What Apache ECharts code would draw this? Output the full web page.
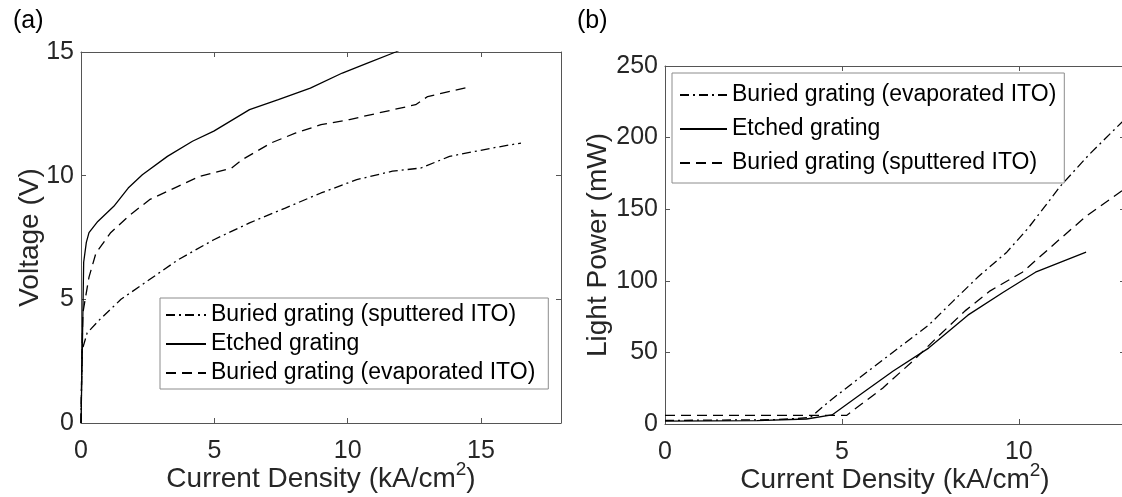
<!DOCTYPE html>
<html>
<head>
<meta charset="utf-8">
<script src="https://cdn.jsdelivr.net/npm/echarts@6/dist/echarts.min.js"></script>
<style>
  html, body { margin: 0; padding: 0; background: #fff; }
  #chart { width: 1122px; height: 497px; }
</style>
</head>
<body>
<div id="chart"></div>
<script>
// (a) voltage vs current density, [kA/cm2, V]
var etchedIV = [[0, 0], [0.05, 3], [0.1, 6.5], [0.2, 7.3], [0.3, 7.7], [0.63, 8.15], [1.23, 8.76], [1.77, 9.5],
  [2.3, 10.04], [3.24, 10.78], [4.18, 11.39], [4.98, 11.8], [6.32, 12.67], [7.4, 13.07], [8.6, 13.54],
  [9.8, 14.15], [10.74, 14.55], [11.8, 15.0], [12.0, 15.1]]
var evaporatedIV = [[0, 0], [0.03, 2.5], [0.07, 4.45], [0.3, 5.9], [0.56, 6.87], [1.1, 7.68], [1.77, 8.35],
  [2.57, 9.03], [3.64, 9.57], [4.45, 9.97], [5.65, 10.31], [6.05, 10.65], [7.12, 11.32], [8.06, 11.73],
  [9.0, 12.06], [10.07, 12.27], [11.14, 12.53], [12.55, 12.87], [13.0, 13.2], [14.62, 13.6]]
var sputteredIV = [[0, 0], [0.02, 1.5], [0.05, 2.97], [0.23, 3.64], [0.7, 4.18], [1.5, 5.0], [2.57, 5.8],
  [3.64, 6.6], [4.98, 7.41], [6.32, 8.09], [7.66, 8.69], [9.0, 9.3], [10.34, 9.84], [11.68, 10.18],
  [12.75, 10.31], [13.82, 10.78], [15.43, 11.12], [16.5, 11.32]]

// (b) light power vs current density, [kA/cm2, mW]
var evaporatedLI = [[0, 2.5], [3.1, 3], [4.1, 4.5], [4.7, 17], [5.8, 38], [6.7, 55], [7.45, 69], [8.15, 86],
  [8.86, 103], [9.66, 120], [10.27, 137], [10.77, 153], [11.17, 166], [11.98, 188], [12.92, 211], [13, 213]]
var etchedLI = [[0, 2], [2.6, 2.3], [4.0, 3.5], [4.72, 6.3], [5.6, 22], [6.45, 37], [7.45, 53], [8.56, 76],
  [9.56, 92], [10.47, 106], [11.9, 120]]
var sputteredLI = [[0, 6], [4.1, 6], [5.13, 6], [6.15, 25], [7.05, 45], [7.67, 60], [8.48, 79], [9.19, 93],
  [10.1, 106], [11.2, 130], [11.9, 145], [12.92, 163], [13, 164.5]]

var xTicksA = [0, 5, 10, 15]
var yTicksA = [0, 5, 10, 15]
var xTicksB = [0, 5, 10]
var yTicksB = [0, 50, 100, 150, 200, 250]

var FONT = 'Liberation Sans, Arial, Helvetica, sans-serif'
var AXIS = '#555'
var TEXT = '#262626'
var DASHDOT = [9, 4, 2, 4]
var DASHED = [10, 6]

function tickFmt (list) {
  return function (v) { return list.indexOf(v) >= 0 ? String(v) : '' }
}

function mainAxis (grid, min, max, step, ticks, name, gap, isX) {
  return {
    type: 'value',
    gridIndex: grid,
    min: min,
    max: max,
    interval: step,
    position: isX ? 'bottom' : 'left',
    name: name,
    nameLocation: 'middle',
    nameGap: gap,
    nameMoveOverlap: false,
    nameTextStyle: { fontFamily: FONT, fontSize: 28, color: TEXT },
    axisLine: { show: true, onZero: false, lineStyle: { color: AXIS, width: 1 } },
    axisTick: { show: true, inside: true, length: 5, lineStyle: { color: AXIS } },
    axisLabel: { fontFamily: FONT, fontSize: 25, color: TEXT, margin: isX ? 16 : 7, showMaxLabel: true, showMinLabel: true, formatter: tickFmt(ticks) },
    splitLine: { show: false }
  }
}

function mirrorAxis (grid, min, max, step, isX) {
  return {
    type: 'value',
    gridIndex: grid,
    min: min,
    max: max,
    interval: step,
    position: isX ? 'top' : 'right',
    axisLine: { show: true, onZero: false, lineStyle: { color: AXIS, width: 1 } },
    axisTick: { show: true, inside: true, length: 5, lineStyle: { color: AXIS } },
    axisLabel: { show: false },
    splitLine: { show: false }
  }
}

var xTitle = '{n|Current Density (kA/cm}{s|2}{n|)}'
var xTitleRich = {
  n: { fontFamily: FONT, fontSize: 28, color: TEXT },
  s: { fontFamily: FONT, fontSize: 19, color: TEXT, verticalAlign: 'top', padding: [0, 0, 20, 0] }
}

function line (name, data, xi, yi, dash) {
  return {
    name: name,
    type: 'line',
    xAxisIndex: xi,
    yAxisIndex: yi,
    data: data,
    symbol: 'none',
    clip: true,
    lineStyle: { color: '#000', width: 1.3, type: dash },
    itemStyle: { color: '#000' }
  }
}

var xA = mainAxis(0, 0, 18, 5, xTicksA, xTitle, 37, true)
xA.nameTextStyle.rich = xTitleRich
var xB = mainAxis(1, 0, 13, 5, xTicksB, xTitle, 37, true)
xB.nameTextStyle.rich = xTitleRich

var legendText = { fontFamily: FONT, fontSize: 23, color: '#000', lineHeight: 24 }
var noSymbol = { opacity: 0 }

var myChart = echarts.init(document.getElementById('chart'))
myChart.setOption({
  animation: false,
  backgroundColor: '#fff',
  title: [
    { text: '(a)', left: 8, top: 4, textStyle: { fontFamily: FONT, fontSize: 25, fontWeight: 'normal', color: '#000' } },
    { text: '(b)', left: 572, top: 4, textStyle: { fontFamily: FONT, fontSize: 25, fontWeight: 'normal', color: '#000' } }
  ],
  grid: [
    { left: 81, top: 52, width: 480, height: 371, outerBoundsMode: 'none', containLabel: false },
    { left: 665, top: 66, width: 460, height: 358, outerBoundsMode: 'none', containLabel: false }
  ],
  xAxis: [
    xA,
    mirrorAxis(0, 0, 18, 5, true),
    xB,
    mirrorAxis(1, 0, 13, 5, true)
  ],
  yAxis: [
    mainAxis(0, 0, 15, 5, yTicksA, 'Voltage (V)', 37, false),
    mirrorAxis(0, 0, 15, 5, false),
    mainAxis(1, 0, 250, 50, yTicksB, 'Light Power (mW)', 53, false),
    mirrorAxis(1, 0, 250, 50, false)
  ],
  legend: [
    {
      left: 160,
      top: 298,
      orient: 'vertical',
      selectedMode: false,
      backgroundColor: '#fff',
      borderColor: '#8c8c8c',
      borderWidth: 1,
      padding: [5, 13, 4, 5],
      itemWidth: 40,
      itemHeight: 14,
      itemGap: 5,
      itemStyle: noSymbol,
      textStyle: legendText,
      data: [
        { name: 'Buried grating (sputtered ITO)', lineStyle: { type: DASHDOT } },
        { name: 'Etched grating', lineStyle: { type: 'solid' } },
        { name: 'Buried grating (evaporated ITO)', lineStyle: { type: DASHED } }
      ]
    },
    {
      left: 672,
      top: 73,
      orient: 'vertical',
      selectedMode: false,
      backgroundColor: '#fff',
      borderColor: '#8c8c8c',
      borderWidth: 1,
      padding: [10, 8, 8, 7],
      itemWidth: 47,
      itemHeight: 14,
      itemGap: 10,
      itemStyle: noSymbol,
      textStyle: legendText,
      data: [
        { name: 'Buried grating (evaporated ITO)', lineStyle: { type: DASHDOT } },
        { name: 'Etched grating', lineStyle: { type: 'solid' } },
        { name: 'Buried grating (sputtered ITO)', lineStyle: { type: DASHED } }
      ]
    }
  ],
  series: [
    line('Buried grating (sputtered ITO)', sputteredIV, 0, 0, DASHDOT),
    line('Etched grating', etchedIV, 0, 0, 'solid'),
    line('Buried grating (evaporated ITO)', evaporatedIV, 0, 0, DASHED),
    line('Buried grating (evaporated ITO)', evaporatedLI, 2, 2, DASHDOT),
    line('Etched grating', etchedLI, 2, 2, 'solid'),
    line('Buried grating (sputtered ITO)', sputteredLI, 2, 2, DASHED)
  ]
}, true)
</script>
</body>
</html>
